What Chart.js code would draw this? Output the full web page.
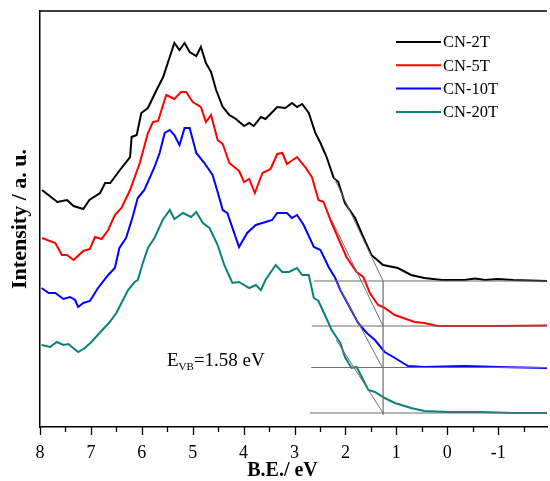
<!DOCTYPE html>
<html>
<head>
<meta charset="utf-8">
<script src="https://cdn.jsdelivr.net/npm/chart.js@4"></script>
<style>
  html, body { margin: 0; padding: 0; background: #fff; overflow: hidden; }
  #wrap { width: 562px; height: 481px; position: relative; }
</style>
</head>
<body>
<div id="wrap"><canvas id="chart"></canvas></div>
<script>
// Binding energy (eV) and intensity (a.u.).
const eV2T = [7.96, 7.66, 7.47, 7.34, 7.15, 7.03, 6.82, 6.72, 6.62, 6.43, 6.23, 6.20, 6.10, 6.01, 5.88, 5.71, 5.58, 5.49, 5.36, 5.26, 5.16, 5.06, 4.93, 4.84, 4.74, 4.64, 4.54, 4.41, 4.28, 4.15, 3.99, 3.89, 3.80, 3.66, 3.57, 3.34, 3.18, 3.05, 2.95, 2.85, 2.72, 2.59, 2.49, 2.37, 2.23, 2.14, 2.01, 1.81, 1.65, 1.49, 1.26, 0.97, 0.71, 0.45, 0.10, -0.01, -0.34, -0.55, -0.75, -0.99, -1.30, -1.96];
const int2T = [237, 225, 227, 221, 218, 227, 234, 244, 244, 257, 270, 290, 292, 314, 319, 337, 350, 364, 384, 377, 384, 375, 371, 380, 364, 355, 337, 320, 312, 308, 301, 304, 301, 310, 308, 320, 319, 324, 320, 323, 314, 294, 284, 270, 249, 245, 224, 209, 190, 172, 162, 159, 152, 149, 147, 147, 147, 148.5, 147, 148, 147, 146];

const eV5T = [7.96, 7.70, 7.57, 7.47, 7.34, 7.15, 7.02, 6.92, 6.79, 6.66, 6.53, 6.40, 6.23, 6.04, 5.88, 5.78, 5.68, 5.52, 5.36, 5.23, 5.13, 5.00, 4.84, 4.74, 4.64, 4.51, 4.41, 4.28, 4.09, 3.99, 3.89, 3.78, 3.63, 3.47, 3.34, 3.24, 3.15, 2.95, 2.79, 2.66, 2.53, 2.43, 2.27, 2.10, 1.98, 1.78, 1.65, 1.52, 1.36, 1.26, 1.03, 0.64, 0.45, 0.19, -0.34, -0.99, -1.96];
const int5T = [189, 184, 172, 172, 167, 176, 178, 190, 188, 197, 212, 219, 237, 264, 294, 305, 306, 332, 328, 335, 335, 325, 320, 305, 312, 287, 283, 264, 256, 245, 248, 234, 254, 258, 273, 274, 263, 270, 260, 250, 227, 225, 204, 184, 170, 155, 150, 134, 122, 120, 112, 105, 104, 101, 101, 101, 101.5];

const eV10T = [7.97, 7.83, 7.70, 7.54, 7.41, 7.31, 7.25, 7.15, 7.02, 6.86, 6.66, 6.53, 6.44, 6.31, 6.18, 6.08, 5.95, 5.75, 5.65, 5.55, 5.45, 5.36, 5.26, 5.16, 5.06, 4.93, 4.77, 4.61, 4.51, 4.41, 4.32, 4.09, 3.93, 3.76, 3.57, 3.44, 3.34, 3.15, 3.05, 2.95, 2.82, 2.62, 2.49, 2.33, 2.20, 2.10, 1.94, 1.75, 1.58, 1.42, 1.23, 1.06, 0.90, 0.77, 0.45, -0.34, -0.99, -1.96];
const int10T = [139, 134, 134, 128, 130, 127, 120, 124, 126, 139, 152, 159, 179, 189, 210, 229, 237, 260, 274, 294, 297, 292, 282, 299, 299, 274, 264, 252, 235, 217, 214, 180, 194, 202, 205, 207, 214, 214, 209, 212, 202, 180, 177, 160, 149, 137, 122, 104, 94, 87, 75, 70, 65, 61, 60, 61, 60, 59];

const eV20T = [7.97, 7.80, 7.67, 7.54, 7.44, 7.35, 7.25, 7.12, 6.99, 6.83, 6.63, 6.50, 6.40, 6.27, 6.14, 6.08, 5.98, 5.88, 5.75, 5.59, 5.45, 5.36, 5.19, 5.03, 4.93, 4.80, 4.67, 4.51, 4.38, 4.22, 4.09, 3.89, 3.76, 3.66, 3.57, 3.37, 3.24, 3.11, 2.95, 2.85, 2.72, 2.62, 2.53, 2.43, 2.27, 2.10, 2.01, 1.88, 1.78, 1.68, 1.55, 1.42, 1.23, 1.03, 0.71, 0.45, -0.01, -0.66, -1.31, -1.96];
const int20T = [82, 80, 85, 82, 83, 79, 75, 79, 85, 94, 105, 114, 124, 137, 145, 147, 164, 179, 189, 207, 217, 208, 214, 210, 215, 204, 199, 182, 162, 144, 145, 139, 142, 137, 147, 162, 155, 155, 159, 152, 152, 129, 126, 115, 97, 84, 70, 59, 60, 50, 37, 35, 29, 24, 19, 16, 15, 15, 14, 14];

const seriesNames = ['CN-2T', 'CN-5T', 'CN-10T', 'CN-20T'];
const seriesColors = ['#000000', '#ff0000', '#0000ff', '#0b8080'];

// Extrapolation lines: tangent start/end and baseline level per curve.
const tangentEV = [[2.22, 1.26], [2.27, 1.26], [2.18, 1.28], [2.18, 1.26]];
const tangentInt = [[249, 146], [207, 101], [145, 60], [87, 14]];
const baselineStart = [2.62, 2.66, 2.67, 2.70];
const baselineLevel = [146, 101, 59.5, 14];
const edgeEV = 1.26;
const edgeRange = [146, 12];

const xTicks = [8, 7, 6, 5, 4, 3, 2, 1, 0, -1];
const xMin = -1.96, xMax = 8;

const font = 'Liberation Serif, Times New Roman, serif';

function pts(xs, ys) {
  return xs.map((x, i) => ({ x: x, y: ys[i] }));
}

const curves = [[eV2T, int2T], [eV5T, int5T], [eV10T, int10T], [eV20T, int20T]];
const datasets = [];

// Grey helper lines first so the curves sit on top.
for (let i = 0; i < 4; i++) {
  datasets.push({
    data: pts(tangentEV[i], tangentInt[i]),
    borderColor: '#6e6e6e', borderWidth: 1, pointRadius: 0
  });
  datasets.push({
    data: pts([baselineStart[i], xMin], [baselineLevel[i], baselineLevel[i]]),
    borderColor: '#6e6e6e', borderWidth: 1.2, pointRadius: 0
  });
}
datasets.push({
  data: pts([edgeEV, edgeEV], edgeRange),
  borderColor: '#6e6e6e', borderWidth: 1.2, pointRadius: 0
});

curves.forEach((c, i) => {
  datasets.push({
    label: seriesNames[i],
    data: pts(c[0], c[1]),
    borderColor: seriesColors[i],
    borderWidth: 2,
    pointRadius: 0,
    tension: 0
  });
});

// Frame top, minor/major ticks, x title, legend and the E_VB note.
const extras = {
  id: 'extras',
  afterDraw(chart) {
    const ctx = chart.ctx;
    const a = chart.chartArea;
    const xs = chart.scales.x;
    ctx.save();
    ctx.strokeStyle = '#000';
    ctx.lineWidth = 1.5;
    ctx.beginPath();
    ctx.moveTo(a.left, a.top);
    ctx.lineTo(a.right, a.top);
    ctx.stroke();

    ctx.lineWidth = 1.3;
    for (let v = 8; v >= xMin; v -= 0.5) {
      const px = Math.round(xs.getPixelForValue(v)) + 0.5;
      const len = Number.isInteger(v) ? 8 : 5;
      ctx.beginPath();
      ctx.moveTo(px, a.bottom);
      ctx.lineTo(px, a.bottom + len);
      ctx.stroke();
    }

    ctx.fillStyle = '#000';
    ctx.textAlign = 'center';
    ctx.textBaseline = 'middle';
    ctx.font = 'bold 20px ' + font;
    ctx.fillText('B.E./ eV', 282.5, 471);

    // legend
    ctx.textAlign = 'left';
    ctx.font = '16.5px ' + font;
    seriesNames.forEach((n, i) => {
      const y = 42 + i * 23.3;
      ctx.strokeStyle = seriesColors[i];
      ctx.lineWidth = 2;
      ctx.beginPath();
      ctx.moveTo(396, y);
      ctx.lineTo(441, y);
      ctx.stroke();
      ctx.fillStyle = '#000';
      ctx.fillText(n, 443, y + 1);
    });

    // E_VB annotation
    ctx.textBaseline = 'alphabetic';
    ctx.font = '19px ' + font;
    ctx.fillText('E', 167, 366);
    const ew = ctx.measureText('E').width;
    ctx.font = '11px ' + font;
    ctx.fillText('VB', 167 + ew, 370);
    const sw = ctx.measureText('VB').width;
    ctx.font = '19px ' + font;
    ctx.fillText('=1.58 eV', 167 + ew + sw, 366);
    ctx.restore();
  }
};

new Chart('chart', {
  type: 'line',
  data: { datasets: datasets },
  options: {
    responsive: true,
    maintainAspectRatio: false,
    animation: false,
    layout: { padding: { top: 11, right: 0, left: 0, bottom: 0 } },
    plugins: { legend: { display: false }, tooltip: { enabled: false } },
    scales: {
      x: {
        type: 'linear',
        reverse: true,
        min: xMin,
        max: xMax,
        afterFit(s) { s.height = 54; },
        grid: { display: false, drawTicks: false },
        border: { display: true, color: '#000', width: 1.5 },
        ticks: {
          stepSize: 0.5,
          autoSkip: false,
          maxRotation: 0,
          padding: 15,
          color: '#000',
          font: { family: font, size: 18 },
          callback: (v) => xTicks.includes(v) ? String(v) : ''
        }
      },
      y: {
        min: 0,
        max: 416,
        afterFit(s) { s.width = 40; },
        grid: { display: false, drawTicks: false },
        border: { display: true, color: '#000', width: 1.5 },
        ticks: { display: false },
        title: {
          display: true,
          text: 'Intensity / a. u.',
          color: '#000',
          font: { family: font, size: 22, weight: 'bold' },
          padding: { top: 7, bottom: 0 }
        }
      }
    }
  },
  plugins: [extras]
});
</script>
</body>
</html>
